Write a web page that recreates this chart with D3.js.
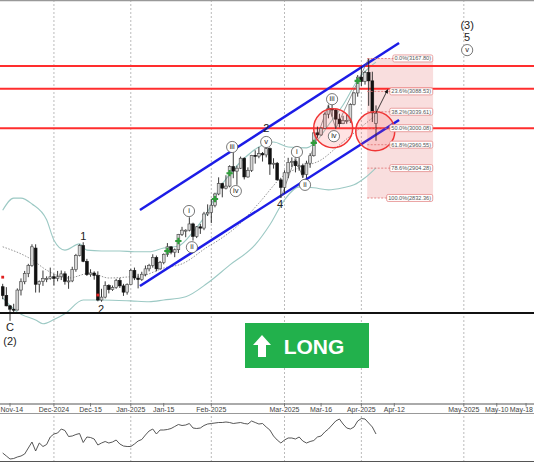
<!DOCTYPE html>
<html><head><meta charset="utf-8">
<script src="https://cdn.jsdelivr.net/npm/d3@7"></script>
<style>body{margin:0;background:#fff}svg{display:block}text{font-family:Arial,"Liberation Sans",sans-serif}</style>
</head><body><svg id="c" width="534" height="462"></svg>
<script>
const dates = ["2024-11-12","2024-11-13","2024-11-14","2024-11-15","2024-11-18","2024-11-19","2024-11-20","2024-11-21","2024-11-22","2024-11-25","2024-11-26","2024-11-27","2024-11-28","2024-11-29",
"2024-12-02","2024-12-03","2024-12-04","2024-12-05","2024-12-06","2024-12-09","2024-12-10","2024-12-11","2024-12-12","2024-12-13","2024-12-16","2024-12-17","2024-12-18","2024-12-19","2024-12-20","2024-12-23","2024-12-24","2024-12-26","2024-12-27","2024-12-30","2024-12-31",
"2025-01-02","2025-01-03","2025-01-06","2025-01-07","2025-01-08","2025-01-09","2025-01-10","2025-01-13","2025-01-14","2025-01-15","2025-01-16","2025-01-17","2025-01-20","2025-01-21","2025-01-22","2025-01-23","2025-01-24","2025-01-27","2025-01-28","2025-01-29","2025-01-30","2025-01-31",
"2025-02-03","2025-02-04","2025-02-05","2025-02-06","2025-02-07","2025-02-10","2025-02-11","2025-02-12","2025-02-13","2025-02-14","2025-02-17","2025-02-18","2025-02-19","2025-02-20","2025-02-21","2025-02-24","2025-02-25","2025-02-26","2025-02-27","2025-02-28",
"2025-03-03","2025-03-04","2025-03-05","2025-03-06","2025-03-07","2025-03-10","2025-03-11","2025-03-12","2025-03-13","2025-03-14","2025-03-17","2025-03-18","2025-03-19","2025-03-20","2025-03-21","2025-03-24","2025-03-25","2025-03-26","2025-03-27","2025-03-28","2025-03-31",
"2025-04-01","2025-04-02","2025-04-03","2025-04-04","2025-04-07"];
const open  = [2619,2598,2573,2565,2563,2611,2631,2651,2670,2712,2625,2632,2639,2639, 2643,2639,2643,2650,2632,2633,2660,2694,2718,2680,2648,2652,2646,2587,2594,2622,2612,2617,2634,2621,2606,
2624,2658,2640,2636,2649,2662,2670,2689,2662,2677,2697,2715,2702,2708,2745,2755,2755,2770,2740,2763,2760,2794,
2798,2815,2842,2867,2856,2861,2908,2897,2904,2928,2883,2899,2935,2933,2939,2936,2951,2914,2916,2876,
2858,2893,2918,2920,2910,2910,2889,2916,2934,2989,2984,3000,3034,3048,3044,3022,3011,3019,3019,3057,3085,
3123,3113,3134,3114,3012];
const high  = [2626,2618,2575,2578,2615,2639,2657,2674,2721,2721,2634,2658,2644,2665, 2650,2657,2658,2656,2645,2667,2698,2721,2726,2686,2661,2656,2656,2614,2632,2625,2622,2638,2640,2626,2627,
2662,2665,2650,2655,2670,2674,2697,2694,2681,2699,2724,2716,2711,2746,2763,2757,2786,2773,2765,2770,2799,2817,
2830,2845,2882,2869,2887,2911,2942,2910,2932,2930,2906,2936,2947,2955,2943,2956,2954,2928,2919,2880,
2899,2929,2930,2925,2930,2915,2922,2940,2990,3004,3002,3038,3055,3057,3047,3035,3030,3033,3060,3087,3128,
3149,3138,3167.8,3136,3055];
const low   = [2589,2572,2537,2554,2562,2598,2625,2642,2667,2605,2605,2621,2630,2636, 2622,2632,2635,2624,2614,2630,2655,2692,2678,2645,2643,2636,2584,2583,2591,2603,2609,2614,2616,2597,2600,
2624,2635,2615,2633,2644,2656,2665,2656,2660,2673,2691,2697,2690,2700,2741,2738,2752,2730,2736,2746,2755,2789,
2772,2810,2839,2834,2853,2858,2880,2864,2902,2877,2881,2895,2915,2928,2920,2930,2888,2903,2874,2832.4,
2843,2880,2907,2894,2898,2881,2880,2905,2932,2977,2982,2999,3024,3028,2999,3002,3010,3011,3013,3055,3076,
3101,3105,3054,3015,2970];
const close = [2598,2573,2565,2563,2611,2631,2651,2670,2715,2625,2632,2639,2639,2643, 2639,2643,2650,2632,2633,2660,2694,2718,2680,2648,2652,2646,2587,2594,2622,2612,2617,2634,2621,2606,2624,
2658,2640,2636,2649,2662,2670,2689,2662,2677,2697,2715,2702,2708,2745,2755,2755,2770,2740,2763,2760,2794,2798,
2815,2842,2867,2856,2861,2908,2897,2904,2928,2883,2899,2935,2933,2939,2936,2951,2914,2916,2876,2858,
2893,2918,2920,2910,2910,2889,2916,2934,2989,2984,3000,3034,3048,3044,3022,3011,3019,3019,3057,3085,3123,
3113,3134,3114,3037,3036];
// oscillator (lower panel), one value per candle
const osc = [18,12,6,7,10,12,16,28,40,22,38,31,35,50,56,58,66,63,51,52,55,57,39,50,49,46,34,38,41,38,40,44,36,32,31,
31,36,42,45,54,62,66,56,64,64,65,67,71,75,73,74,77,68,67,68,73,76,
77,78,79,79,80,79,77,78,79,77,76,82,79,76,77,70,64,52,44,38,
44,48,48,46,50,42,38,41,43,50,52,60,66,74,82,86,76,68,66,70,82,
87,86,78,70,56];
// Bollinger bands (candle index, price)
const upperIdx = [0,3,5,8,12,14,17,21,23,27,32,36,40,44,48,52,56,59,63,68,71,74,78,83,86,89,93,97,100,102];
const upperVal = [2803,2832,2832,2818,2780,2731,2707,2722,2707,2705,2705,2703,2703,2712,2717,2751,2799,2852,2900,2943,2960,2967,2955,2953,2972,3008,3056,3116,3145,3159];
const midIdx = [0,8,12,18,24,29,35,38,44,49,56,59,65,70,77,81,87,92,97,102];
const midVal = [2715,2684,2659,2640,2652,2640,2643,2645,2664,2674,2715,2731,2772,2820,2888,2905,2924,2960,2996,3032];
const lowerIdx = [0,4,9,11,14,17,22,27,35,40,44,50,56,62,69,73,77,81,85,89,93,96,99,102];
const lowerVal = [2592,2558,2539,2530,2540,2554,2587,2587,2585,2583,2587,2595,2628,2671,2720,2768,2828,2859,2857,2852,2857,2864,2881,2905];
// tick labels of the date axis
const tickLabels = ["Nov-14","Dec-2024","Dec-15","Jan-2025","Jan-15","Feb-2025","Mar-2025","Mar-16","Apr-2025","Apr-12","May-2025","May-10","May-18"];
const tickDates  = ["2024-11-14","2024-12-02","2024-12-16","2025-01-02","2025-01-15","2025-02-03","2025-03-03","2025-03-17","2025-04-01","2025-04-12","2025-05-01","2025-05-10","2025-05-18"];
const monthTicks = ["Dec-2024","Jan-2025","Feb-2025","Mar-2025","Apr-2025","May-2025"];
// horizontal levels
const redLevels = [3150,3095,3000];
const baseLevel = 2556;
// fibonacci retracement
const fibHigh = 3167.8, fibLow = 2832.36;
const fibRatios = [0,0.236,0.382,0.5,0.618,0.786,1];
const fibLabels = ["0.0%(3167.80)","23.6%(3088.53)","38.2%(3039.61)","50.0%(3000.08)","61.8%(2960.55)","78.6%(2904.28)","100.0%(2832.36)"];
// channel (index, price)
const chanUpper = [[37.5,2803.6],[108.3,3205]];
const chanLower = [[37.5,2620.9],[108.3,3020]];
// wave connector line (index, price)
const waveLine = [[76,2832.4],[80,2930],[82,2881],[89,3057],[91,2999],[100,3167.8]];
// circles (index, price)
const circles = [[90.3,3000],[101.8,2993]];
// markers (index, price)
const greenMarks = [[45,2705],[48,2729],[58,2830],[62,2892],[85,2965],[97,3114]];
const redMarks = [[0,2642],[26,2599]];
// wave labels
const circledLabels = [["iii",62.7,2955],["iv",63.7,2849],["v",72,2967],["i",80.4,2943],["ii",82.6,2864],["i",50.9,2801],["ii",51.7,2714],["iii",90,3070],["iv",90.5,2981],["v",126.9,3188]];
const plainLabels = [["1",22,2741],["2",26.9,2566],["C",2,2522],["(2)",2,2488],["2",72,3000],["4",75.8,2818],["(3)",126.9,3248],["5",126.9,3219]];
const arrowPts = [[102,3037],[105.2,3093]];

const svg = d3.select("#c");
const W = 534, H = 462;
const x = d3.scaleLinear().domain([0,102]).range([2.7,376]);
const y = d3.scaleLinear().domain([fibLow,fibHigh]).range([198,58.5]);
const yo = d3.scaleLinear().domain([0,100]).range([462,412]);
const lastDate = new Date(dates[dates.length-1]);
function dIdx(s){ const k = dates.indexOf(s); if(k>=0) return k; return dates.length-1 + Math.round((new Date(s)-lastDate)/864e5); }

svg.append("rect").attr("width",W).attr("height",H).attr("fill","#fff");
// gridlines
tickLabels.forEach((t,k)=>{ if(monthTicks.includes(t)){
  svg.append("line").attr("x1",x(dIdx(tickDates[k]))).attr("x2",x(dIdx(tickDates[k]))).attr("y1",0).attr("y2",H)
   .attr("stroke","#bbb").attr("stroke-dasharray","2,2").attr("stroke-width",1);}});
// fib rect
const fx0 = x(99.6), fx1 = x(117.6);
svg.append("rect").attr("x",fx0).attr("y",y(fibHigh)).attr("width",fx1-fx0).attr("height",y(fibLow)-y(fibHigh)).attr("fill","#f9dede");
// bands
const line = d3.line().curve(d3.curveMonotoneX);
function pts(I,V){return I.map((d,k)=>[x(d),y(V[k])]);}
svg.append("path").attr("d",line(pts(upperIdx,upperVal))).attr("fill","none").attr("stroke","#9cc9c4").attr("stroke-width",1.1);
svg.append("path").attr("d",line(pts(lowerIdx,lowerVal))).attr("fill","none").attr("stroke","#9cc9c4").attr("stroke-width",1.1);
svg.append("path").attr("d",line(pts(midIdx,midVal))).attr("fill","none").attr("stroke","#888").attr("stroke-width",0.9).attr("stroke-dasharray","1.5,1.5");
// red levels
redLevels.forEach(v=>svg.append("line").attr("x1",0).attr("x2",W).attr("y1",y(v)).attr("y2",y(v)).attr("stroke","#ff2e2e").attr("stroke-width",2));
// channel
[chanUpper,chanLower].forEach(c=>svg.append("line").attr("x1",x(c[0][0])).attr("y1",y(c[0][1])).attr("x2",x(c[1][0])).attr("y2",y(c[1][1])).attr("stroke","#1c1ce6").attr("stroke-width",2.5));
// wave connector
svg.append("path").attr("d",d3.line()(waveLine.map(p=>[x(p[0]),y(p[1])]))).attr("fill","none").attr("stroke","#666").attr("stroke-width",0.7);
// candles
const g = svg.append("g");
dates.forEach((d,i)=>{
  const up = close[i]>=open[i];
  g.append("line").attr("x1",x(i)).attr("x2",x(i)).attr("y1",y(high[i])).attr("y2",y(low[i])).attr("stroke","#222").attr("stroke-width",0.9);
  const t = y(Math.max(open[i],close[i])), b = y(Math.min(open[i],close[i]));
  g.append("rect").attr("x",x(i)-1.4).attr("width",2.8).attr("y",t).attr("height",Math.max(1,b-t))
   .attr("fill",up?"#d6d6d6":"#111").attr("stroke",up?"#444":"#111").attr("stroke-width",0.6);
});
// circles
circles.forEach(c=>svg.append("circle").attr("cx",x(c[0])).attr("cy",y(c[1])).attr("r",19.5).attr("fill","rgba(255,80,80,0.16)").attr("stroke","#f03535").attr("stroke-width",1.5));
// markers
greenMarks.forEach(m=>svg.append("path").attr("d",d3.symbol(d3.symbolCross,22)()).attr("transform",`translate(${x(m[0])},${y(m[1])})`).attr("fill","#2e9e3a"));
redMarks.forEach(m=>svg.append("path").attr("d",d3.symbol(d3.symbolSquare,8)()).attr("transform",`translate(${x(m[0])},${y(m[1])})`).attr("fill","#e02020"));
// fib levels
fibRatios.forEach((r,k)=>{
  const v = fibHigh - r*(fibHigh-fibLow), yy = y(v);
  const t = svg.append("text").attr("x",fx1-2).attr("y",yy).attr("dy","0.35em").attr("text-anchor","end").attr("font-size",5.6).attr("fill","#555").text(fibLabels[k]);
  const bb = t.node().getBBox();
  svg.append("line").attr("x1",fx0).attr("x2",bb.x-1).attr("y1",yy).attr("y2",yy).attr("stroke","#e07070").attr("stroke-width",0.8).attr("stroke-dasharray","2,1.5");
  svg.insert("rect",()=>t.node()).attr("x",bb.x-1.5).attr("y",bb.y-0.5).attr("width",bb.width+3).attr("height",bb.height+1).attr("rx",1.5)
   .attr("fill","#fff").attr("stroke","#e58a8a").attr("stroke-width",0.8);
});
// arrow
svg.append("defs").append("marker").attr("id","ah").attr("viewBox","0 0 10 10").attr("refX",9).attr("refY",5).attr("markerWidth",5).attr("markerHeight",5).attr("orient","auto")
 .append("path").attr("d","M0,0L10,5L0,10z").attr("fill","#111");
svg.append("line").attr("x1",x(arrowPts[0][0])).attr("y1",y(arrowPts[0][1])).attr("x2",x(arrowPts[1][0])).attr("y2",y(arrowPts[1][1])).attr("stroke","#111").attr("stroke-width",0.8).attr("marker-end","url(#ah)");
// wave labels
circledLabels.forEach(l=>{
  const cx=x(l[1]), cy=y(l[2]);
  svg.append("circle").attr("cx",cx).attr("cy",cy).attr("r",5.6).attr("fill","#fff").attr("stroke","#555").attr("stroke-width",0.8);
  svg.append("text").attr("x",cx).attr("y",cy).attr("dy","0.3em").attr("text-anchor","middle").attr("font-size",7.5).attr("font-family","'Liberation Serif','Times New Roman',serif").attr("fill","#222").text(l[0]);
});
plainLabels.forEach(l=>svg.append("text").attr("x",x(l[1])).attr("y",y(l[2])).attr("dy","0.35em").attr("text-anchor","middle").attr("font-size",11).attr("fill","#222").text(l[0]));
// base black line
svg.append("line").attr("x1",0).attr("x2",W).attr("y1",y(baseLevel)).attr("y2",y(baseLevel)).attr("stroke","#111").attr("stroke-width",2);
// LONG button
svg.append("rect").attr("x",245).attr("y",323).attr("width",124).attr("height",45).attr("fill","#22b14c");
svg.append("path").attr("d","M262,335L271,345L266,345L266,357L258,357L258,345L253,345Z").attr("fill","#fff");
svg.append("text").attr("x",314).attr("y",354).attr("text-anchor","middle").attr("font-size",21).attr("font-weight","bold").attr("fill","#fff").text("LONG");
// date axis strip
svg.append("rect").attr("x",0).attr("y",403).attr("width",W).attr("height",10).attr("fill","#fff");
svg.append("line").attr("x1",0).attr("x2",W).attr("y1",404).attr("y2",404).attr("stroke","#aaa").attr("stroke-width",2);
svg.append("line").attr("x1",0).attr("x2",W).attr("y1",413.5).attr("y2",413.5).attr("stroke","#999").attr("stroke-width",1);
tickLabels.forEach((t,k)=>{
  const xx = x(dIdx(tickDates[k]));
  svg.append("line").attr("x1",xx).attr("x2",xx).attr("y1",403).attr("y2",406.5).attr("stroke","#777");
  const tx = svg.append("text").attr("x",xx).attr("y",411.5).attr("text-anchor","middle").attr("font-size",7).attr("fill","#444").text(t);
  const w = tx.node().getComputedTextLength();
  if (xx + w/2 > W - 1) tx.attr("x", W - 1 - w/2);
  if (xx - w/2 < 0.5) tx.attr("x", 0.5 + w/2);
});
// oscillator
svg.append("path").attr("d",d3.line()(osc.map((v,i)=>[x(i),yo(v)]))).attr("fill","none").attr("stroke","#444").attr("stroke-width",0.9);
// borders
svg.append("line").attr("x1",0).attr("x2",W).attr("y1",0.5).attr("y2",0.5).attr("stroke","#999").attr("stroke-width",1.5);
svg.append("line").attr("x1",0).attr("x2",W).attr("y1",461.5).attr("y2",461.5).attr("stroke","#555").attr("stroke-width",1);
</script></body></html>
